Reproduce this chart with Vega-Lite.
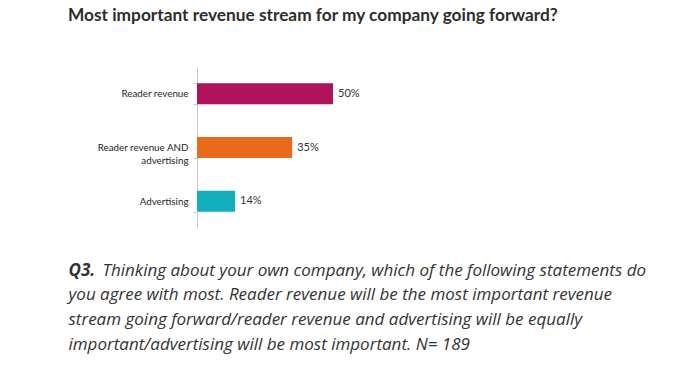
{
  "$schema": "https://vega.github.io/schema/vega-lite/v6.json",
  "autosize": {"type": "none"},
  "padding": {"left": 197, "top": 67, "right": 231, "bottom": 150},
  "width": 272,
  "height": 161,
  "background": "white",
  "config": {"view": {"stroke": null}, "font": "Lato"},
  "title": {
    "text": "Most important revenue stream for my company going forward?",
    "anchor": "start",
    "frame": "group",
    "dx": -129,
    "offset": 38,
    "fontSize": 17.3,
    "font": "Lato",
    "fontWeight": "bold",
    "color": "#2d2d2d"
  },
  "data": {
    "values": [
      {"category": "Reader revenue", "value": 50, "label": "50%"},
      {"category": "Reader revenue AND advertising", "value": 35, "label": "35%"},
      {"category": "Advertising", "value": 14, "label": "14%"}
    ]
  },
  "encoding": {
    "y": {
      "field": "category",
      "type": "nominal",
      "sort": null,
      "scale": {"paddingInner": 0.61, "paddingOuter": 0.305},
      "axis": {
        "title": "Q3.",
        "titleFont": "Open Sans",
        "titleFontSize": 17,
        "titleFontStyle": "italic",
        "titleFontWeight": "bold",
        "titleColor": "#333333",
        "titleAngle": 0,
        "titleAlign": "left",
        "titleAnchor": "start",
        "titleBaseline": "alphabetic",
        "titleX": -129,
        "titleY": 208,
        "domainColor": "#c8c8c8",
        "tickColor": "#c8c8c8",
        "tickSize": 4,
        "tickBand": "extent",
        "labelPadding": 5,
        "labelFontSize": 9.8,
        "labelColor": "#262626",
        "labelFont": "Lato",
        "labelLineHeight": 13,
        "labelExpr": "datum.value == 'Reader revenue AND advertising' ? ['Reader revenue AND', 'advertising'] : datum.value"
      }
    },
    "x": {
      "field": "value",
      "type": "quantitative",
      "scale": {"domain": [0, 100]},
      "axis": {
        "domain": false, "ticks": false, "labels": false, "grid": false,
        "title": [
          "\u200b\u2003\u2003Thinking about your own company, which of the following statements do",
          "you agree with most. Reader revenue will be the most important revenue",
          "stream going forward/reader revenue and advertising will be equally",
          "important/advertising will be most important. N= 189"
        ],
        "titleFont": "Open Sans",
        "titleFontSize": 17,
        "titleFontStyle": "italic",
        "titleFontWeight": "normal",
        "titleColor": "#333333",
        "titleAlign": "left",
        "titleAnchor": "start",
        "titleBaseline": "alphabetic",
        "titleLineHeight": 24.7,
        "titleX": -129,
        "titleY": 47
      }
    }
  },
  "layer": [
    {
      "mark": {"type": "bar"},
      "encoding": {
        "color": {
          "field": "category",
          "type": "nominal",
          "scale": {
            "domain": ["Reader revenue", "Reader revenue AND advertising", "Advertising"],
            "range": ["#B1135B", "#EA6A1B", "#13AEBB"]
          },
          "legend": null
        }
      }
    },
    {
      "mark": {"type": "text", "align": "left", "dx": 5, "fontSize": 11, "color": "#333333", "font": "Lato"},
      "encoding": {
        "text": {"field": "label"}
      }
    }
  ]
}
